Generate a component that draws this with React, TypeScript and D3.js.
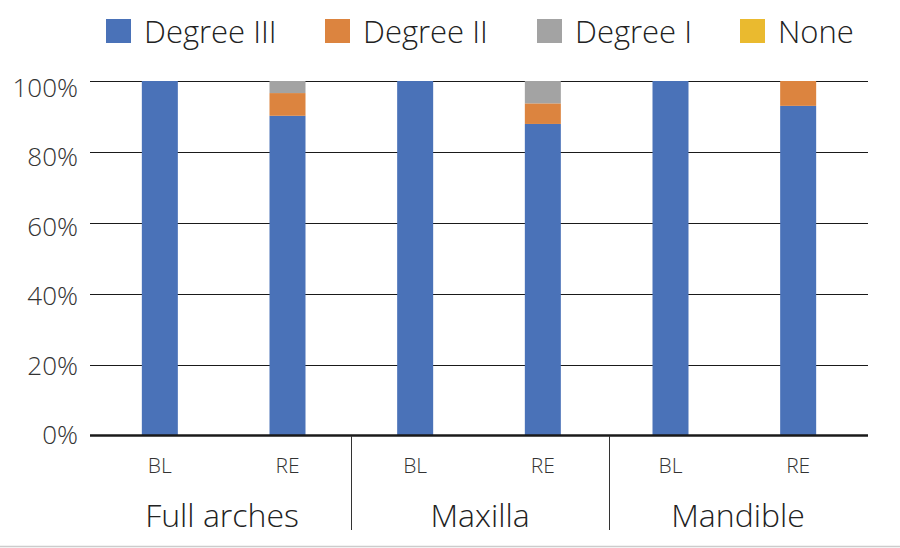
import React from "react";
import * as d3 from "d3";

const groups = ["Full arches", "Maxilla", "Mandible"];
const timepoints = ["BL", "RE"];
const seriesNames = ["Degree III", "Degree II", "Degree I", "None"];
const colors = ["#4A72B8", "#DC843F", "#A3A3A3", "#EABA2F"];
// values per bar (Full arches BL, RE, Maxilla BL, RE, Mandible BL, RE)
const degreeIII = [100, 90.2, 100, 87.9, 100, 93.0];
const degreeII = [0, 6.4, 0, 5.8, 0, 7.0];
const degreeI = [0, 3.4, 0, 6.3, 0, 0];
const none = [0, 0, 0, 0, 0, 0];
const yTicks = [0, 20, 40, 60, 80, 100];

const FONT = "'Open Sans', 'Noto Sans', sans-serif";

export default function App() {
  const W = 900, H = 548;
  const gridLeft = 90, gridRight = 868, top = 81, bottom = 436;
  const bars = groups.flatMap((g) => timepoints.map((t) => `${g}|${t}`));
  const x = d3.scaleBand<string>().domain(bars).range([96, 862]).paddingInner(0.718).paddingOuter(0.359);
  const xGroup = d3.scaleBand<string>().domain(groups).range([93, 867]);
  const y = d3.scaleLinear().domain([0, 100]).range([bottom, top]);
  const yLabel = d3.scaleLinear().domain([0, 100]).range([435, 87.5]);

  const rows = bars.map((key, i) => ({
    key,
    "Degree III": degreeIII[i],
    "Degree II": degreeII[i],
    "Degree I": degreeI[i],
    None: none[i],
  }));
  const stacked = d3.stack<any>().keys(seriesNames)(rows);

  const legendX = [106, 325, 537, 740];

  return (
    <svg width={W} height={H} style={{ position: "absolute", left: 0, top: 0 }} fontFamily={FONT}>
      <rect x={0} y={0} width={W} height={H} fill="#fff" />
      {/* legend */}
      {seriesNames.map((s, i) => (
        <g key={s}>
          <rect x={legendX[i]} y={19} width={25} height={24} fill={colors[i]} />
          <text x={legendX[i] + 38} y={43} fontSize={31} fontWeight={300} fill="#222">{s}</text>
        </g>
      ))}
      {/* gridlines */}
      {yTicks.filter((t) => t > 0).map((t) => {
        const yy = Math.round(y(t)) + 0.5;
        return <line key={t} x1={gridLeft} x2={gridRight} y1={yy} y2={yy} stroke="#1a1a1a" strokeWidth={1} />;
      })}
      {yTicks.map((t) => (
        <text key={"l" + t} x={78} y={yLabel(t) + 9.3} textAnchor="end" fontSize={26} fontWeight={300} fill="#333">{t}%</text>
      ))}
      {/* bars */}
      {stacked.map((layer, si) => (
        <g key={seriesNames[si]} fill={colors[si]}>
          {layer.map((d, i) => (
            d[1] - d[0] > 0 ? (
              <rect key={i} x={x(bars[i])} width={x.bandwidth()} y={y(d[1])} height={y(d[0]) - y(d[1])} />
            ) : null
          ))}
        </g>
      ))}
      {/* baseline on top */}
      <line x1={gridLeft} x2={gridRight} y1={bottom - 0.5} y2={bottom - 0.5} stroke="#1a1a1a" strokeWidth={2.5} />
      {/* group separators */}
      {groups.slice(1).map((g) => (
        <line key={g} x1={Math.round(xGroup(g)!) + 0.5} x2={Math.round(xGroup(g)!) + 0.5} y1={bottom} y2={530} stroke="#333" strokeWidth={1} />
      ))}
      {/* tick labels */}
      {bars.map((b) => (
        <text key={b} x={x(b)! + x.bandwidth() / 2} y={473} textAnchor="middle" fontSize={21} fontWeight={300} fill="#333">{b.split("|")[1]}</text>
      ))}
      {groups.map((g) => (
        <text key={g} x={xGroup(g)! + xGroup.bandwidth() / 2} y={527} textAnchor="middle" fontSize={32} fontWeight={300} fill="#222">{g}</text>
      ))}
      <line x1={0} x2={W} y1={546.5} y2={546.5} stroke="#ccc" strokeWidth={1.5} />
    </svg>
  );
}
